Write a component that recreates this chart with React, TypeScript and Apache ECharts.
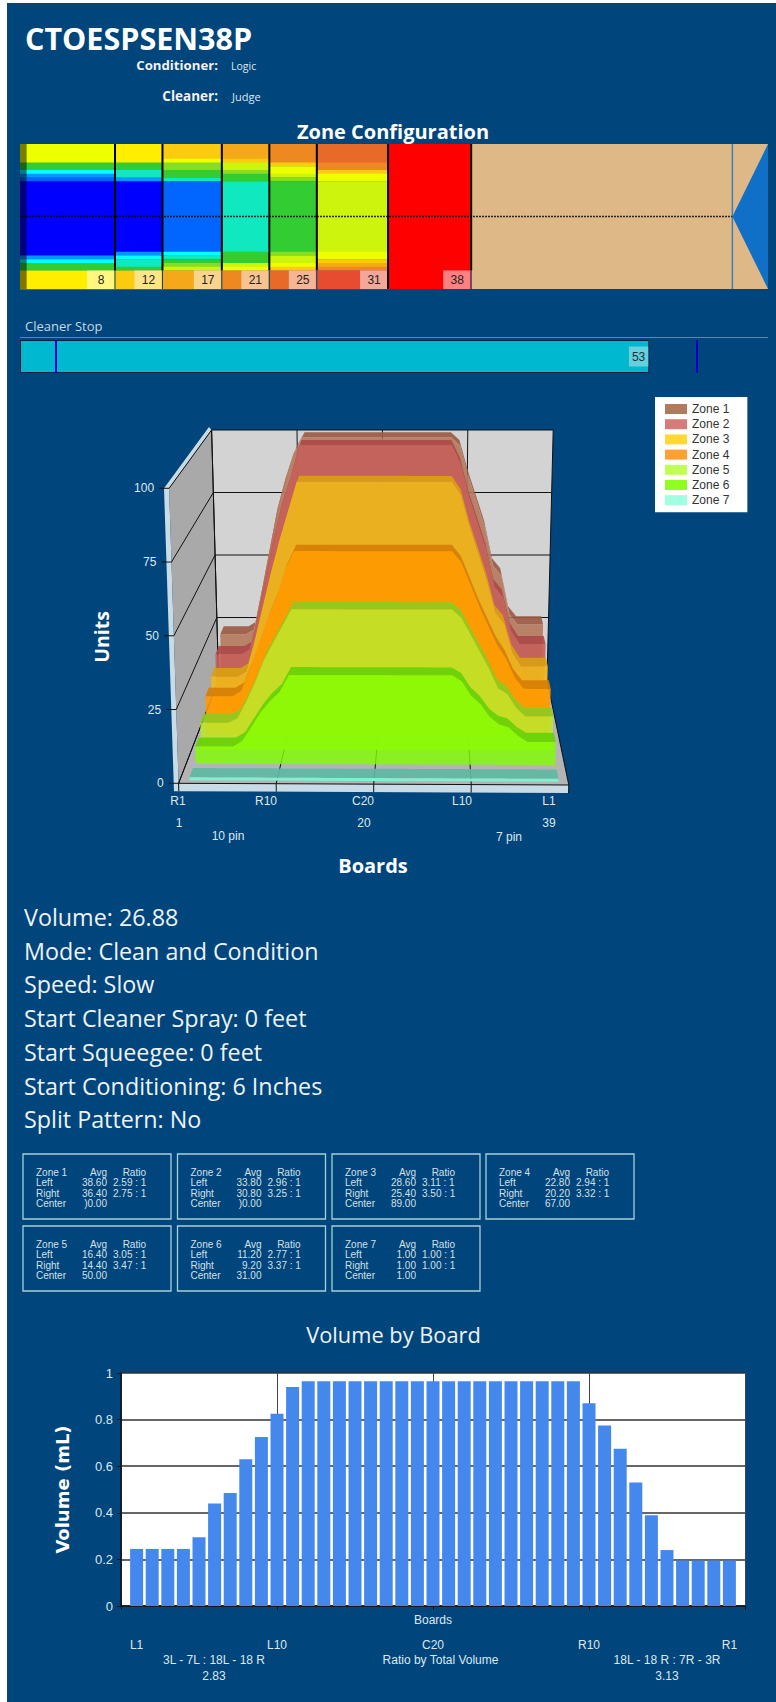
import React, { useEffect, useRef } from "react";
import * as echarts from "echarts";

// ---- data ----
const zoneEdges = [0, 8, 12, 17, 21, 25, 31, 38];
const laneEnd = 60;
const laneMax = 63;
const heatPalette = ["#0000ff", "#0066ff", "#0099ff", "#00ffff", "#10e8c0", "#33cc33", "#88dd22", "#ccf40c", "#eeff00", "#ffee00", "#fbcb0f", "#f5a81a", "#ee8820", "#e86a28", "#e84c30", "#ff0000"];
const heat8 = [8,8,8,8,8,5,5,3,2,1,0,0,0,0,0,0,0,0,0,0,0,0,0,0,0,0,0,0,0,0,2,3,5,5,9,9,9,9,9];
const heat12 = [9,9,9,9,9,5,5,4,4,2,0,0,0,0,0,0,0,0,0,0,0,0,0,0,0,0,0,0,0,2,3,4,4,5,10,10,10,10,10];
const heat17 = [10,10,10,10,8,6,6,5,5,4,1,1,1,1,1,1,1,1,1,1,1,1,1,1,1,1,1,1,1,3,4,5,6,7,11,11,11,11,11];
const heat21 = [11,11,11,11,10,7,7,6,5,5,4,4,4,4,4,4,4,4,4,4,4,4,4,4,4,4,4,4,4,5,5,5,7,8,12,12,12,12,12];
const heat25 = [12,12,12,12,12,10,8,8,7,6,5,5,5,5,5,5,5,5,5,5,5,5,5,5,5,5,5,5,5,6,7,7,8,10,13,13,13,13,13];
const heat31 = [13,13,13,13,13,12,12,10,8,8,7,7,7,7,7,7,7,7,7,7,7,7,7,7,7,7,7,7,7,8,8,10,11,12,14,14,14,14,14];
const heat38 = [15,15,15,15,15,15,15,15,15,15,15,15,15,15,15,15,15,15,15,15,15,15,15,15,15,15,15,15,15,15,15,15,15,15,15,15,15,15,15];
const heatColumns = [heat8, heat12, heat17, heat21, heat25, heat31, heat38];
const cleanerStop = [53];
const cleanerMarks = [3, 57];

const zoneNames = ["Zone 1", "Zone 2", "Zone 3", "Zone 4", "Zone 5", "Zone 6", "Zone 7"];
const zone1 = [23,23,23,23,25,40,56,72,84,94,100,100,100,100,100,100,100,100,100,100,100,100,100,100,100,100,100,100,97,85,75,65,50,46,31,27,27,27,27];
const zone2 = [20,20,20,20,22,35,50,65,78,88,100,100,100,100,100,100,100,100,100,100,100,100,100,100,100,100,100,100,93,80,70,60,46,42,29,24,24,24,24];
const zone3 = [16,16,16,16,18,29,42,55,67,78,89,89,89,89,89,89,89,89,89,89,89,89,89,89,89,89,89,89,84,72,62,52,40,36,25,20,20,20,20];
const zone4 = [14,14,14,14,16,24,33,42,50,60,67,67,67,67,67,67,67,67,67,67,67,67,67,67,67,67,67,67,63,55,47,40,33,28,21,17,17,17,17];
const zone5 = [9.5,9.5,9.5,9.5,11,17,24,32,38,44,50,50,50,50,50,50,50,50,50,50,50,50,50,50,50,50,50,50,47,41,35,29,22,20,15,12,12,12,12];
const zone6 = [6,6,6,6,6,8,13,18,22,25,31,31,31,31,31,31,31,31,31,31,31,31,31,31,31,31,31,31,29,24,21,16.5,14,13,10,8,8,8,8];
const zone7 = [1,1,1,1,1,1,1,1,1,1,1,1,1,1,1,1,1,1,1,1,1,1,1,1,1,1,1,1,1,1,1,1,1,1,1,1,1,1,1];
const zoneSeries = [zone1, zone2, zone3, zone4, zone5, zone6, zone7];
const units3dTicks = [0, 25, 50, 75, 100];
const board3dTicks = [0, 10, 20, 30, 40];

const statLeftAvg = ["38.60", "33.80", "28.60", "22.80", "16.40", "11.20", "1.00"];
const statRightAvg = ["36.40", "30.80", "25.40", "20.20", "14.40", "9.20", "1.00"];
const statCenter = [")0.00", ")0.00", "89.00", "67.00", "50.00", "31.00", "1.00"];
const statLeftRatio = ["2.59 : 1", "2.96 : 1", "3.11 : 1", "2.94 : 1", "3.05 : 1", "2.77 : 1", "1.00 : 1"];
const statRightRatio = ["2.75 : 1", "3.25 : 1", "3.50 : 1", "3.32 : 1", "3.47 : 1", "3.37 : 1", "1.00 : 1"];
const infoLines = ["Volume: 26.88", "Mode: Clean and Condition", "Speed: Slow", "Start Cleaner Spray: 0 feet", "Start Squeegee: 0 feet", "Start Conditioning: 6 Inches", "Split Pattern: No"];

const volumeByBoard = [0.245,0.245,0.245,0.245,0.295,0.44,0.485,0.63,0.725,0.825,0.94,0.965,0.965,0.965,0.965,0.965,0.965,0.965,0.965,0.965,0.965,0.965,0.965,0.965,0.965,0.965,0.965,0.965,0.965,0.87,0.775,0.675,0.53,0.39,0.24,0.195,0.195,0.195,0.195];
const volumeTickBoards = [1, 10, 20, 30, 39];
const volumeTickLabels = ["L1", "L10", "C20", "R10", "R1"];

// ---- styles ----
const BG = "#00457c";
const SANS = "'Open Sans'";
const SMALL = "'Liberation Sans'";
const LIGHT = "#dfe8ee";
const zoneLegend = ["#b07a5c", "#d67a7a", "#ffd835", "#ffa030", "#c0ff55", "#90ff20", "#a0ffe0"];
const zoneFace = ["#b5795c", "#c55f5a", "#f0b818", "#ff9900", "#bde62a", "#80ff00", "#80f0d0"];
const zoneFaceAlpha = [0.9, 0.9, 0.9, 0.9, 0.88, 0.8, 1];
const zoneTop = ["#9b5a45", "#ad4a48", "#d9a010", "#d67f05", "#8ecb1e", "#68d108", "#60b8a4"];
const zoneFront = [0.87, 0.74, 0.62, 0.47, 0.33, 0.19, 0.03];
const zoneThickness = 0.09;

const lerp = (a: number, b: number, t: number) => a + (b - a) * t;
const FL0 = [178.6, 783.3], FR0 = [568.8, 785], FL1 = [169.1, 488.3], FR1 = [577.5, 488.3];
const BL0 = [218.6, 680], BR0 = [547, 680], BL1 = [211.6, 430], BR1 = [553.2, 430];
function project(u: number, v: number, d: number) {
  return [0, 1].map((k) => {
    const f0 = lerp(FL0[k], FR0[k], u), f1 = lerp(FL1[k], FR1[k], u);
    const b0 = lerp(BL0[k], BR0[k], u), b1 = lerp(BL1[k], BR1[k], u);
    return lerp(lerp(f0, f1, v), lerp(b0, b1, v), d);
  });
}
// grid coords -> unit coords, through the hidden axes of the 3D grid
function unit(api: any, board: number, value: number) {
  const o = api.coord([0, 0]);
  const e = api.coord([40, 100]);
  const p = api.coord([board, value]);
  return [(p[0] - o[0]) / (e[0] - o[0]), (p[1] - o[1]) / (e[1] - o[1])];
}
const pr = (api: any, b: number, val: number, d: number) => {
  const [u, v] = unit(api, b, val);
  return project(u, v, d);
};

function line(a: number[], b: number[], stroke = "#111", lineWidth = 1) {
  return { type: "line", shape: { x1: a[0], y1: a[1], x2: b[0], y2: b[1] }, style: { stroke, lineWidth } };
}
function poly(points: number[][], fill: string, opacity = 1) {
  return { type: "polygon", shape: { points }, style: { fill, opacity } };
}

function wallsRender(_: any, api: any) {
  const P = (b: number, val: number, d: number) => pr(api, b, val, d);
  const kids: any[] = [];
  kids.push(poly([P(-0.5, 100, 0), P(-0.3, 101.2, 1), P(0, 100, 1), P(0, 100, 0), P(0, -2.7, 0), P(-0.5, -2.7, 0)], "#c9dce6"));
  kids.push(poly([P(0, 0, 0), P(0, 100, 0), P(0, 100, 1), P(0, 0, 1)], "#a9a9a9"));
  kids.push(poly([P(0, 0, 1), P(0, 100, 1), P(40, 100, 1), P(40, 0, 1)], "#d3d3d3"));
  kids.push(poly([P(0, 0, 0), P(0, 0, 1), P(40, 0, 1), P(40, 0, 0)], "#b4b4b4"));
  kids.push(poly([P(0, 0, 0), P(40, 0, 0), P(40, -2.7, 0), P(0, -2.7, 0)], "#c9dce6"));
  units3dTicks.forEach((t) => {
    if (t > 0) kids.push(line(P(0, t, 1), P(40, t, 1)));
    kids.push(line(P(0, t, 0), P(0, t, 1)));
    kids.push(line(P(-1, t, 0), P(0, t, 0)));
    const at = P(0, t, 0);
    kids.push({ type: "text", style: { text: String(t), x: at[0] - 15, y: at[1], fill: LIGHT, align: "right", verticalAlign: "middle", font: `12px ${SMALL}` } });
  });
  board3dTicks.forEach((b) => {
    kids.push(line(P(b, 0, 1), P(b, 100, 1)));
    kids.push(line(P(b, 0, 0), P(b, 0, 1)));
    kids.push(line(P(b, 0, 0), P(b, -2.7, 0)));
  });
  kids.push(line(P(0, 0, 0), P(40, 0, 0)));
  kids.push(line(P(0, 0, 1), P(0, 100, 1)));
  return { type: "group", children: kids };
}

function zoneRender(idx: number) {
  return (params: any, api: any) => {
    if (params.dataIndex !== 0) return null;
    const values = zoneSeries[idx];
    const df = zoneFront[idx], db = df + zoneThickness;
    const front = values.map((v, i) => pr(api, i + 1, v, df));
    const back = values.map((v, i) => pr(api, i + 1, v, db));
    const last = values.length;
    const baseL = pr(api, 1, 0, df), baseR = pr(api, last, 0, df);
    return {
      type: "group",
      children: [
        poly([...back, ...[...front].reverse()], zoneTop[idx], 0.92),
        poly([baseL, ...front, baseR], zoneFace[idx], zoneFaceAlpha[idx]),
      ],
    };
  };
}

function heatRender(_: any, api: any) {
  const a = api.coord([api.value(0), api.value(1)]);
  const b = api.coord([api.value(3), api.value(4)]);
  return { type: "rect", shape: { x: a[0], y: a[1], width: b[0] - a[0], height: b[1] - a[1] + 0.3 }, style: { fill: heatPalette[api.value(2)] } };
}
function laneRender(_: any, api: any) {
  const c = (x: number, y: number) => api.coord([x, y]);
  const kids: any[] = [];
  const tl = c(38, 0), br = c(laneMax, 39);
  kids.push({ type: "rect", shape: { x: tl[0], y: tl[1], width: br[0] - tl[0], height: br[1] - tl[1] }, style: { fill: "#deb887" } });
  kids.push(poly([c(laneEnd, 19.5), c(laneMax, 0), c(laneMax, 39)], "#1070c8"));
  kids.push(line(c(laneEnd, 0), c(laneEnd, 39), "#3f7fb5", 1.5));
  const s0 = c(0, 0), s1 = c(0.56, 39);
  kids.push({ type: "rect", shape: { x: s0[0], y: s0[1], width: s1[0] - s0[0], height: s1[1] - s0[1] }, style: { fill: "rgba(0,0,0,0.5)" } });
  zoneEdges.slice(1).forEach((e, i) => {
    if (i !== 5) kids.push(line(c(e, 0), c(e, 34), "#000", 2));
    else kids.push(line(c(e, 0), c(e, 39), "#000", 2));
    kids.push(line(c(e, 34), c(e, 39), i === 5 ? "#000" : BG, 1));
    const r = c(e, 34), q = c(e, 39);
    const x = r[0] - 28;
    kids.push({ type: "rect", shape: { x, y: r[1], width: 27, height: q[1] - r[1] }, style: { fill: "rgba(255,255,255,0.5)" } });
    kids.push({ type: "text", style: { text: String(e), x: x + 14, y: (r[1] + q[1]) / 2 + 0.5, fill: "#222", align: "center", verticalAlign: "middle", font: `12px ${SMALL}` } });
  });
  const m0 = c(0, 19.5), m1 = c(laneEnd, 19.5);
  kids.push({ type: "line", shape: { x1: m0[0], y1: m0[1], x2: m1[0], y2: m1[1] }, style: { stroke: "rgba(0,0,0,0.8)", lineWidth: 1.4, lineDash: [2, 1] } });
  return { type: "group", children: kids };
}

function text(str: string, x: number, y: number, size: number, fill = LIGHT, opts: any = {}) {
  const { weight = "normal", family = SMALL, align = "left", rotation = 0 } = opts;
  return {
    type: "text", x, y, rotation, z: 30, silent: true,
    style: { text: str, fill, align, verticalAlign: "middle", font: `${weight} ${size}px ${family}` },
  };
}

function buildGraphic() {
  const els: any[] = [];
  els.push({ type: "rect", z: -10, shape: { x: 7, y: 3, width: 769, height: 1699 }, style: { fill: BG } });
  els.push(text("CTOESPSEN38P", 25, 38, 30.5, "#fff", { weight: "bold", family: SANS }));
  els.push(text("Conditioner:", 218, 65, 13.2, "#f2f2f2", { weight: "bold", family: SANS, align: "right" }));
  els.push(text("Logic", 231, 66, 10.5, LIGHT, { family: SANS }));
  els.push(text("Cleaner:", 218, 96, 13.5, "#f2f2f2", { weight: "bold", family: SANS, align: "right" }));
  els.push(text("Judge", 232, 96, 11, LIGHT, { family: SANS }));
  els.push(text("Zone Configuration", 393, 131, 20, "#fff", { weight: "bold", family: SANS, align: "center" }));
  els.push(text("Cleaner Stop", 25, 326, 13, "#c8d8e4", { family: SANS }));
  els.push({ type: "line", z: 5, shape: { x1: 20, y1: 337.5, x2: 768, y2: 337.5 }, style: { stroke: "#5a88a8", lineWidth: 1 } });

  [["R1", 178], ["R10", 266], ["C20", 363], ["L10", 462], ["L1", 549]].forEach(([s, x]) => els.push(text(s as string, x as number, 801, 12, LIGHT, { align: "center" })));
  [["1", 179], ["20", 364], ["39", 549]].forEach(([s, x]) => els.push(text(s as string, x as number, 823, 12, LIGHT, { align: "center" })));
  els.push(text("10 pin", 228, 836, 12, LIGHT, { align: "center" }));
  els.push(text("7 pin", 509, 837, 12, LIGHT, { align: "center" }));
  els.push(text("Boards", 373, 865, 20, "#fff", { weight: "bold", family: SANS, align: "center" }));
  els.push(text("Units", 101, 637, 19.5, "#fff", { weight: "bold", family: SANS, align: "center", rotation: Math.PI / 2 }));

  infoLines.forEach((s, i) => els.push(text(s, 24, 917 + i * 33.7, 23.3, "#eef3f6", { family: SANS })));

  const boxX = [23, 177.5, 332, 486];
  zoneNames.forEach((name, i) => {
    const x = boxX[i % 4], y = 1154 + (i >= 4 ? 72 : 0);
    els.push({ type: "rect", z: 6, shape: { x, y, width: 148, height: 65 }, style: { fill: "transparent", stroke: "#a8d0d8", lineWidth: 1.3 } });
    const f = "#d6e0e6";
    const r = [18, 28.3, 39.3, 49.7];
    els.push(text(name, x + 13, y + r[0], 10, f));
    els.push(text("Avg", x + 84, y + r[0], 10, f, { align: "right" }));
    els.push(text("Ratio", x + 123, y + r[0], 10, f, { align: "right" }));
    els.push(text("Left", x + 13, y + r[1], 10, f));
    els.push(text(statLeftAvg[i], x + 84, y + r[1], 10, f, { align: "right" }));
    els.push(text(statLeftRatio[i], x + 90, y + r[1], 10, f));
    els.push(text("Right", x + 13, y + r[2], 10, f));
    els.push(text(statRightAvg[i], x + 84, y + r[2], 10, f, { align: "right" }));
    els.push(text(statRightRatio[i], x + 90, y + r[2], 10, f));
    els.push(text("Center", x + 13, y + r[3], 10, f));
    els.push(text(statCenter[i], x + 84, y + r[3], 10, f, { align: "right" }));
  });

  els.push(text("Volume by Board", 393.5, 1334, 21.8, "#eef3f6", { family: SANS, align: "center" }));
  els.push(text("3L - 7L : 18L - 18 R", 214, 1660, 12, LIGHT, { align: "center" }));
  els.push(text("2.83", 214, 1676, 12, LIGHT, { align: "center" }));
  els.push(text("Ratio by Total Volume", 440.5, 1660, 12, LIGHT, { align: "center" }));
  els.push(text("18L - 18 R : 7R - 3R", 667, 1660, 12, LIGHT, { align: "center" }));
  els.push(text("3.13", 667, 1676, 12, LIGHT, { align: "center" }));
  return els;
}

function buildOption() {
  const hiddenX = (gridIndex: number, max: number) => ({ type: "value", gridIndex, min: 0, max, show: false });
  // consecutive rows at the same level become one cell
  const heatData: number[][] = [];
  heatColumns.forEach((col, c) => {
    let start = 0;
    col.forEach((lvl, row) => {
      if (row === col.length - 1 || col[row + 1] !== lvl) {
        heatData.push([zoneEdges[c], start, lvl, zoneEdges[c + 1], row + 1]);
        start = row + 1;
      }
    });
  });

  const series: any[] = [
    { type: "custom", name: "heat", xAxisIndex: 0, yAxisIndex: 0, clip: false, encode: { x: 0, y: 1 }, data: heatData, renderItem: heatRender, z: 3 },
    { type: "custom", name: "lane", xAxisIndex: 0, yAxisIndex: 0, clip: false, encode: { x: 0, y: 1 }, data: [[0, 0]], renderItem: laneRender, z: 4 },
    {
      type: "bar", name: "Cleaner Stop", xAxisIndex: 1, yAxisIndex: 1, data: cleanerStop, barWidth: 33,
      itemStyle: { color: "#00b8d0", borderColor: "#07203a", borderWidth: 1 },
      label: { show: true, position: "insideRight", distance: 1, color: "#12333f", backgroundColor: "#66d0dd", padding: [4, 3], fontSize: 12, fontFamily: "Liberation Sans" },
      markLine: {
        silent: true, symbol: "none", label: { show: false }, animation: false,
        lineStyle: { color: "#0000cc", width: 2, type: "solid" },
        data: cleanerMarks.map((x) => ({ xAxis: x })),
      },
    },
    { type: "custom", name: "walls", xAxisIndex: 2, yAxisIndex: 2, clip: false, encode: { x: 0, y: 1 }, data: [[0, 0]], renderItem: wallsRender, z: 2 },
    ...zoneNames.map((name, i) => ({
      type: "custom", name, xAxisIndex: 2, yAxisIndex: 2, clip: false, z: 3 + i,
      encode: { x: 0, y: 1 }, itemStyle: { color: zoneLegend[i] },
      data: zoneSeries[i].map((v, b) => [b + 1, v]), renderItem: zoneRender(i),
    })),
    {
      type: "bar", name: "Volume", xAxisIndex: 3, yAxisIndex: 3, barWidth: 13,
      itemStyle: { color: "#4488ee" }, data: volumeByBoard.map((v, i) => [i + 1, v]),
    },
  ];

  return {
    animation: false,
    backgroundColor: "#ffffff",
    legend: {
      data: zoneNames.map((name) => ({ name, icon: "rect" })),
      orient: "vertical", left: 655, top: 397, itemWidth: 22, itemHeight: 10, itemGap: 3.2,
      padding: [6, 18, 6, 10], backgroundColor: "#ffffff", selectedMode: false,
      textStyle: { color: "#333", fontSize: 12, fontFamily: "Liberation Sans" },
    },
    grid: [
      { left: 20, width: 748, top: 144, height: 145 },
      { left: 20, width: 748, top: 340, height: 33 },
      { left: 179, width: 390, top: 488, height: 295 },
      { left: 121, width: 624, top: 1373, height: 233, show: true, backgroundColor: "#ffffff", borderWidth: 0 },
    ],
    xAxis: [
      hiddenX(0, laneMax),
      hiddenX(1, laneMax),
      hiddenX(2, 40),
      {
        type: "value", gridIndex: 3, min: 0, max: 40, interval: 10,
        name: "Boards", nameLocation: "middle", nameGap: 8, nameMoveOverlap: false,
        nameTextStyle: { color: LIGHT, fontSize: 12, fontFamily: "Liberation Sans" },
        axisLine: { show: true, lineStyle: { color: "#111", width: 1.5 } },
        axisTick: { show: true, length: 4, lineStyle: { color: "#111" } },
        splitLine: { show: true, lineStyle: { color: "#444", width: 1 } },
        axisLabel: {
          customValues: volumeTickBoards, margin: 33, color: LIGHT, fontSize: 12, fontFamily: "Liberation Sans",
          formatter: (v: number) => volumeTickLabels[volumeTickBoards.indexOf(v)] ?? "",
        },
      },
    ],
    yAxis: [
      { type: "value", gridIndex: 0, min: 0, max: 39, inverse: true, show: false },
      { type: "category", gridIndex: 1, data: ["Cleaner"], show: false },
      { type: "value", gridIndex: 2, min: 0, max: 100, show: false },
      {
        type: "value", gridIndex: 3, min: 0, max: 1, interval: 0.2,
        name: "Volume (mL)", nameLocation: "middle", nameGap: 50, nameRotate: 90,
        nameTextStyle: { color: "#fff", fontSize: 18, fontWeight: "bold", fontFamily: "DejaVu Sans" },
        axisLine: { show: true, lineStyle: { color: "#111", width: 1.5 } },
        axisTick: { show: true, length: 4, lineStyle: { color: "#111" } },
        splitLine: { show: true, lineStyle: { color: "#333", width: 1.5 } },
        axisLabel: { color: LIGHT, fontSize: 13, fontFamily: "Liberation Sans", margin: 8 },
      },
    ],
    graphic: { elements: buildGraphic() },
    series,
  };
}

export default function App() {
  const ref = useRef<HTMLDivElement>(null);
  useEffect(() => {
    document.body.style.margin = "0";
    const chart = echarts.init(ref.current!, undefined, { renderer: "svg" });
    chart.setOption(buildOption() as any);
    return () => chart.dispose();
  }, []);
  return <div ref={ref} style={{ width: 776, height: 1702 }} />;
}
